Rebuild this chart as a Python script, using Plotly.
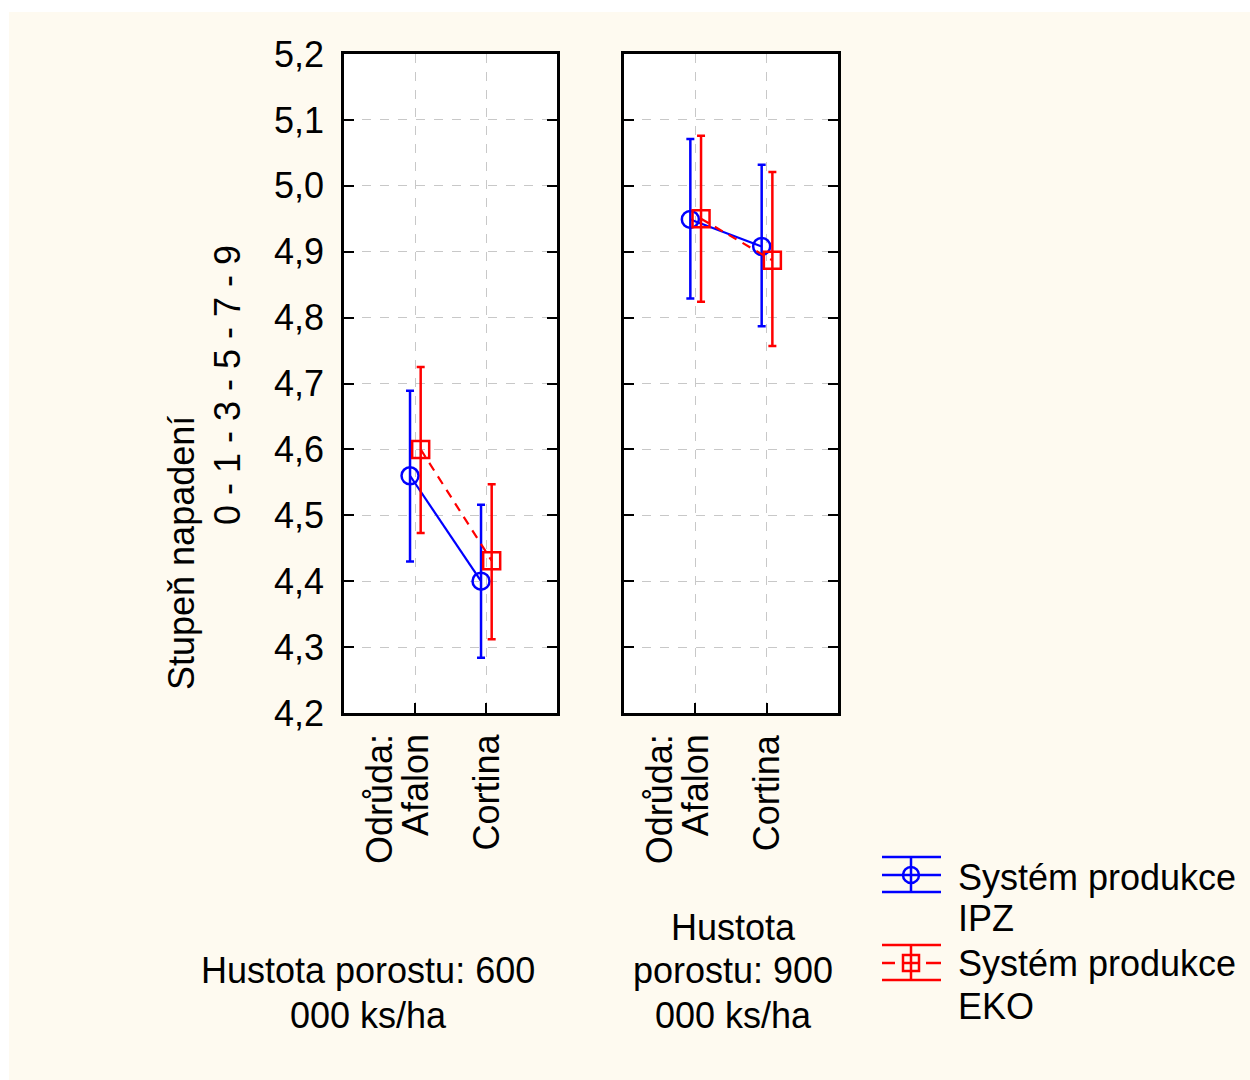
import plotly.graph_objects as go

# ---- data ----
categories = ["Odrůda:<br>Afalon", "Cortina"]
panels = ["Hustota porostu: 600<br>000 ks/ha", "Hustota<br>porostu: 900<br>000 ks/ha"]

ipz_mean_600 = [4.56, 4.40]
ipz_lo_600 = [4.430, 4.284]
ipz_hi_600 = [4.689, 4.516]
eko_mean_600 = [4.60, 4.431]
eko_lo_600 = [4.473, 4.312]
eko_hi_600 = [4.725, 4.547]

ipz_mean_900 = [4.949, 4.908]
ipz_lo_900 = [4.829, 4.787]
ipz_hi_900 = [5.071, 5.032]
eko_mean_900 = [4.950, 4.887]
eko_lo_900 = [4.824, 4.757]
eko_hi_900 = [5.076, 5.021]

y_ticks = [4.2, 4.3, 4.4, 4.5, 4.6, 4.7, 4.8, 4.9, 5.0, 5.1, 5.2]
series_names = ["Systém produkce<br>IPZ", "Systém produkce<br>EKO"]
y_title = ["Stupeň napadení", "0 - 1 - 3 - 5 - 7 - 9"]

W, H = 1250, 1080
FONT = "Liberation Sans, Arial, sans-serif"
FS = 36
BLUE = "#0000ff"
RED = "#ff0000"
CREAM = "#fefaf0"

def px(x):
    return x / W

def py(y):
    return 1 - y / H

fig = go.Figure()

def add_series(mean, lo, hi, offset, color, symbol, dash, xa, ya):
    xs = [i + offset for i in range(len(mean))]
    fig.add_trace(go.Scatter(
        x=xs, y=mean, mode="lines+markers",
        line=dict(color=color, width=2.2, dash=dash),
        marker=dict(symbol=symbol, size=17, color=color, line=dict(color=color, width=2.5)),
        error_y=dict(type="data", symmetric=False,
                     array=[h - m for h, m in zip(hi, mean)],
                     arrayminus=[m - l for m, l in zip(mean, lo)],
                     color=color, thickness=2.5, width=4),
        xaxis=xa, yaxis=ya, showlegend=False, cliponaxis=False,
    ))

OFF_B, OFF_R = -0.07, 0.08
add_series(ipz_mean_600, ipz_lo_600, ipz_hi_600, OFF_B, BLUE, "circle-open", "solid", "x", "y")
add_series(eko_mean_600, eko_lo_600, eko_hi_600, OFF_R, RED, "square-open", "9px,7px", "x", "y")
add_series(ipz_mean_900, ipz_lo_900, ipz_hi_900, OFF_B, BLUE, "circle-open", "solid", "x2", "y2")
add_series(eko_mean_900, eko_lo_900, eko_hi_900, OFF_R, RED, "square-open", "9px,7px", "x2", "y2")

Y0, Y1 = 713, 54
xcommon = dict(
    range=[-1, 2], tickvals=[0, 1], showticklabels=False,
    ticks="inside", ticklen=10, tickwidth=2, tickcolor="black",
    showline=True, linecolor="black", linewidth=2.5, mirror=True,
    showgrid=True, gridcolor="#c8c8c8", griddash="dash", gridwidth=1,
    zeroline=False, automargin=False, fixedrange=True,
)
ycommon = dict(
    range=[4.2, 5.2], tickvals=y_ticks, tickformat=".1f",
    ticks="inside", ticklen=10, tickwidth=2, tickcolor="black",
    showline=True, linecolor="black", linewidth=2.5, mirror="ticks",
    showgrid=True, gridcolor="#c8c8c8", griddash="dash", gridwidth=1,
    zeroline=False, tickfont=dict(family=FONT, size=FS, color="black"),
    ticklabelstandoff=10, domain=[py(Y0), py(Y1)], automargin=False, fixedrange=True,
)

fig.update_layout(
    template="none",
    width=W, height=H, margin=dict(l=0, r=0, t=0, b=0, pad=0, autoexpand=False),
    paper_bgcolor=CREAM, plot_bgcolor="white",
    separators=", ",
    showlegend=False,
    font=dict(family=FONT, size=FS, color="black"),
    xaxis=dict(xcommon, domain=[px(344), px(557)], anchor="y"),
    xaxis2=dict(xcommon, domain=[px(624), px(838)], anchor="y2"),
    yaxis=dict(ycommon, anchor="x"),
    yaxis2=dict(ycommon, anchor="x2", showticklabels=False),
)

shapes = []
# white outer strips (top and left)
shapes.append(dict(type="rect", xref="paper", yref="paper", x0=0, x1=1, y0=py(12), y1=1,
                   fillcolor="white", line=dict(width=0), layer="below"))
shapes.append(dict(type="rect", xref="paper", yref="paper", x0=0, x1=px(9), y0=0, y1=1,
                   fillcolor="white", line=dict(width=0), layer="below"))

def hline(x0, x1, y, color):
    shapes.append(dict(type="line", xref="paper", yref="paper", x0=px(x0), x1=px(x1),
                       y0=py(y), y1=py(y), line=dict(color=color, width=2.5)))

def vline(x, y0, y1, color):
    shapes.append(dict(type="line", xref="paper", yref="paper", x0=px(x), x1=px(x),
                       y0=py(y0), y1=py(y1), line=dict(color=color, width=2.5)))

# legend: IPZ
hline(882, 941, 857, BLUE); hline(882, 941, 875, BLUE); hline(882, 941, 892, BLUE)
vline(911, 857, 892, BLUE)
shapes.append(dict(type="circle", xref="paper", yref="paper", x0=px(903), x1=px(919),
                   y0=py(883), y1=py(867), line=dict(color=BLUE, width=2.5), fillcolor="rgba(0,0,0,0)"))
# legend: EKO
hline(882, 941, 945, RED); hline(882, 941, 980, RED)
hline(882, 895, 963, RED); hline(926, 941, 963, RED)
vline(911, 945, 980, RED)
shapes.append(dict(type="rect", xref="paper", yref="paper", x0=px(903), x1=px(919),
                   y0=py(971), y1=py(955), line=dict(color=RED, width=2.5), fillcolor="rgba(0,0,0,0)"))
hline(903, 919, 963, RED)
fig.update_layout(shapes=shapes)

ann = []

def text(t, x, y, xref="paper", xanchor="center", angle=0, yanchor="middle", xshift=0):
    ann.append(dict(text=t, x=x, y=y, xref=xref, yref="paper", textangle=angle,
                    showarrow=False, xanchor=xanchor, yanchor=yanchor, xshift=xshift,
                    font=dict(family=FONT, size=FS, color="black")))

# y-axis title (two rotated lines)
text(y_title[0], px(181), py(553), angle=-90)
text(y_title[1], px(228), py(385), angle=-90)

# category labels (rotated, last line at tick)
for xref in ("x", "x2"):
    for i, lab in enumerate(categories):
        lines = lab.split("<br>")
        n = len(lines)
        for j, ln in enumerate(lines):
            text(ln, i, py(732), xref=xref, angle=-90, yanchor="top",
                 xshift=-(n - 1 - j) * 36)

# panel labels
for lab, cx, ys in ((panels[0], 368, [970, 1015]), (panels[1], 733, [927, 970, 1015])):
    for ln, yy in zip(lab.split("<br>"), ys):
        text(ln, px(cx), py(yy))

# legend text
for lab, ys in ((series_names[0], [877, 918]), (series_names[1], [963, 1006])):
    for ln, yy in zip(lab.split("<br>"), ys):
        text(ln, px(956), py(yy), xanchor="left")

fig.update_layout(annotations=ann)

fig.write_html("out.html")
